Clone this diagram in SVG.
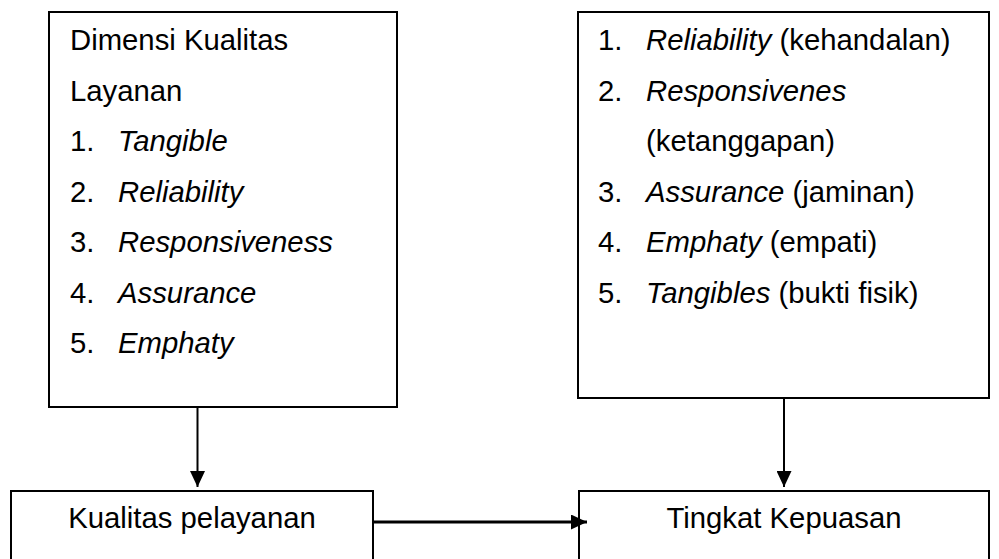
<svg xmlns="http://www.w3.org/2000/svg" width="999" height="559" viewBox="0 0 999 559">
<style>
  .box { fill: #fff; stroke: #000; stroke-width: 2; }
  .t { font-family: "Liberation Sans", Arial, sans-serif; font-size: 29.3px; fill: #000; }
  .i { font-style: italic; }
  .c { text-anchor: middle; }
  .ln { stroke: #000; fill: none; }
</style>
<defs>
  <marker id="ah" viewBox="0 0 16 15" refX="16" refY="7.5" markerWidth="16" markerHeight="15" markerUnits="userSpaceOnUse" orient="auto">
    <path d="M0,0 L16,7.5 L0,15 Z" fill="#000"/>
  </marker>
</defs>
<rect width="999" height="559" fill="#fff"/>
<g id="dimensi">
  <rect class="box" x="49" y="12" width="348" height="395"/>
  <text class="t" x="70" y="50">Dimensi Kualitas</text>
  <text class="t" x="70" y="100.5">Layanan</text>
  <text class="t" x="70" y="151">1.</text><text class="t i" x="118" y="151">Tangible</text>
  <text class="t" x="70" y="201.5">2.</text><text class="t i" x="118" y="201.5">Reliability</text>
  <text class="t" x="70" y="252">3.</text><text class="t i" x="118" y="252">Responsiveness</text>
  <text class="t" x="70" y="302.5">4.</text><text class="t i" x="118" y="302.5">Assurance</text>
  <text class="t" x="70" y="353">5.</text><text class="t i" x="118" y="353">Emphaty</text>
</g>
<g id="indikator">
  <rect class="box" x="578" y="12" width="411" height="386"/>
  <text class="t" x="598" y="50">1.</text><text class="t" x="646" y="50"><tspan class="i">Reliability</tspan> (kehandalan)</text>
  <text class="t" x="598" y="100.5">2.</text><text class="t i" x="646" y="100.5">Responsivenes</text>
  <text class="t" x="646" y="151">(ketanggapan)</text>
  <text class="t" x="598" y="201.5">3.</text><text class="t" x="646" y="201.5"><tspan class="i">Assurance</tspan> (jaminan)</text>
  <text class="t" x="598" y="252">4.</text><text class="t" x="646" y="252"><tspan class="i">Emphaty</tspan> (empati)</text>
  <text class="t" x="598" y="302.5">5.</text><text class="t" x="646" y="302.5"><tspan class="i">Tangibles</tspan> (bukti fisik)</text>
</g>
<g id="kualitas">
  <rect class="box" x="11" y="491" width="362" height="80"/>
  <text class="t c" x="192" y="528">Kualitas pelayanan</text>
</g>
<g id="kepuasan">
  <rect class="box" x="579" y="491" width="410" height="80"/>
  <text class="t c" x="784" y="528">Tingkat Kepuasan</text>
</g>
<g id="connectors">
  <line class="ln" x1="197.5" y1="407" x2="197.5" y2="487" stroke-width="2" marker-end="url(#ah)"/>
  <line class="ln" x1="784" y1="398" x2="784" y2="487" stroke-width="2" marker-end="url(#ah)"/>
  <line class="ln" x1="373" y1="522" x2="587" y2="522" stroke-width="3" marker-end="url(#ah)"/>
</g>
</svg>
